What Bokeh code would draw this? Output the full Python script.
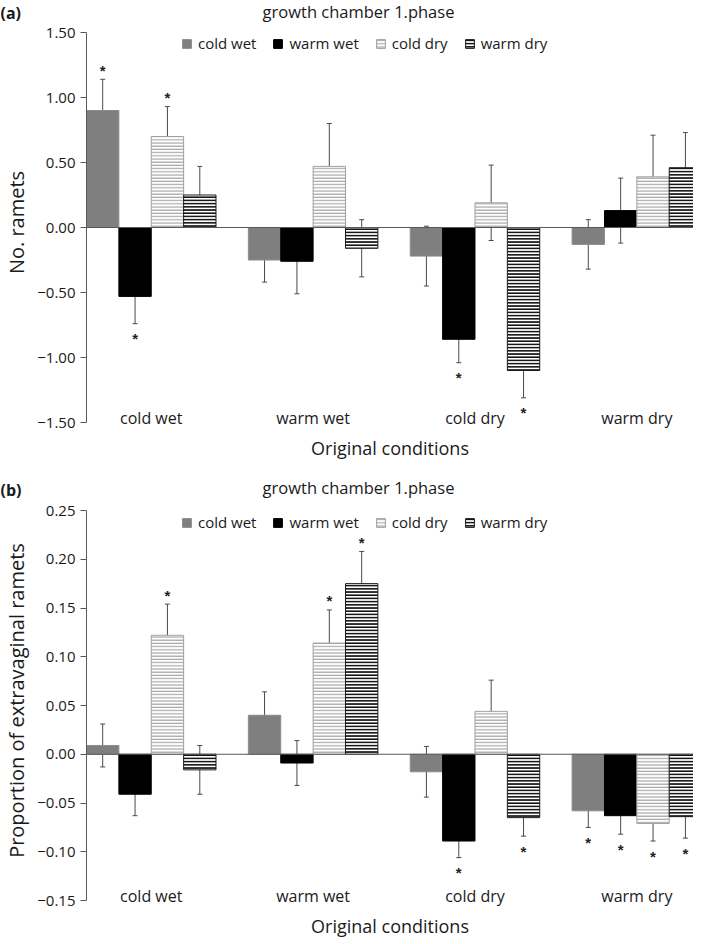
from bokeh.plotting import figure
from bokeh.models import (ColumnDataSource, Whisker, TeeHead, Span, Legend, LegendItem,
                          Label, FixedTicker, Range1d)
from bokeh.layouts import column
from bokeh.embed import file_html
from bokeh.resources import INLINE

# ---------------- data ----------------
conditions = ["cold wet", "warm wet", "cold dry", "warm dry"]   # original conditions (x groups)
treatments = ["cold wet", "warm wet", "cold dry", "warm dry"]   # growth chamber 1.phase (series)
chart_title = "growth chamber 1.phase"
x_title = "Original conditions"

# panel (a): No. ramets  (one list per series, values per original condition)
a_cold_wet = [0.90, -0.25, -0.22, -0.13]
a_warm_wet = [-0.53, -0.26, -0.86, 0.13]
a_cold_dry = [0.70, 0.47, 0.19, 0.39]
a_warm_dry = [0.25, -0.16, -1.10, 0.46]
a_err_cold_wet = [0.24, 0.17, 0.23, 0.19]
a_err_warm_wet = [0.21, 0.25, 0.18, 0.25]
a_err_cold_dry = [0.23, 0.33, 0.29, 0.32]
a_err_warm_dry = [0.22, 0.22, 0.21, 0.27]
a_sig_cold_wet = [1, 0, 0, 0]
a_sig_warm_wet = [1, 0, 1, 0]
a_sig_cold_dry = [1, 0, 0, 0]
a_sig_warm_dry = [0, 0, 1, 0]
a_ticks = [-1.5, -1.0, -0.5, 0.0, 0.5, 1.0, 1.5]
a_tick_labels = ["\u22121.50", "\u22121.00", "\u22120.50", "0.00", "0.50", "1.00", "1.50"]

# panel (b): Proportion of extravaginal ramets
b_cold_wet = [0.009, 0.040, -0.018, -0.058]
b_warm_wet = [-0.041, -0.009, -0.089, -0.063]
b_cold_dry = [0.122, 0.114, 0.044, -0.071]
b_warm_dry = [-0.016, 0.175, -0.065, -0.064]
b_err_cold_wet = [0.022, 0.024, 0.026, 0.017]
b_err_warm_wet = [0.022, 0.023, 0.017, 0.019]
b_err_cold_dry = [0.032, 0.034, 0.032, 0.018]
b_err_warm_dry = [0.025, 0.033, 0.019, 0.022]
b_sig_cold_wet = [0, 0, 0, 1]
b_sig_warm_wet = [0, 0, 1, 1]
b_sig_cold_dry = [1, 1, 0, 1]
b_sig_warm_dry = [0, 1, 1, 1]
b_ticks = [-0.15, -0.10, -0.05, 0.0, 0.05, 0.10, 0.15, 0.20, 0.25]
b_tick_labels = ["\u22120.15", "\u22120.10", "\u22120.05", "0.00", "0.05", "0.10", "0.15", "0.20", "0.25"]

FONT = "Open Sans"
TXT = "#1a1a1a"
AXIS_GREY = "#595959"
ERR_GREY = "#4a4a4a"
W = 693

styles = [
    dict(fill_color="#7f7f7f", line_color="#8c8c8c"),
    dict(fill_color="#000000", line_color="#000000"),
    dict(fill_color="#ffffff", line_color="#a0a0a0", hatch_pattern="horizontal_line",
         hatch_color="#a6a6a6", hatch_scale=3.2, hatch_weight=1.2),
    dict(fill_color="#ffffff", line_color="#1a1a1a", hatch_pattern="horizontal_line",
         hatch_color="#111111", hatch_scale=3.2, hatch_weight=1.9),
]
offsets = [-0.3, -0.1, 0.1, 0.3]
BAR_W = 0.2
TICK_SPAN = 390      # px between lowest and highest y tick


def header(tag, height, title_cy, tag_cy):
    """Strip above a panel holding the panel tag and the chart title."""
    h = figure(width=W, height=height, output_backend="svg", toolbar_location=None,
               x_axis_type=None, y_axis_type=None, min_border=0, frame_align=False,
               x_range=Range1d(0, 1), y_range=Range1d(0, 1))
    h.min_border_left = 0
    h.min_border_right = 0
    h.min_border_top = 0
    h.min_border_bottom = 0
    h.outline_line_color = None
    h.xgrid.visible = False
    h.ygrid.visible = False
    h.add_layout(Label(x=358, y=height - title_cy, x_units="screen", y_units="screen",
                       text=chart_title, text_align="center", text_baseline="middle",
                       text_font=FONT, text_font_size="16.5px", text_color=TXT))
    h.add_layout(Label(x=0, y=height - tag_cy, x_units="screen", y_units="screen",
                       text=tag, text_align="left", text_baseline="middle",
                       text_font=FONT, text_font_size="16px", text_font_style="bold",
                       text_color=TXT))
    return h


def make_panel(ylabel, series, errs, sigs, ticks, tick_labels, height, top_px, bottom_px, legend_cy):
    ymin, ymax = ticks[0], ticks[-1]
    y_end = ymax + (ymax - ymin) * top_px / TICK_SPAN     # room above the top tick
    frame_h = top_px + TICK_SPAN
    p = figure(width=W, height=height, output_backend="svg", toolbar_location=None,
               x_range=Range1d(-0.4, 3.35), y_range=Range1d(ymin, y_end),
               min_border_left=80, min_border_right=0, min_border_top=0,
               min_border_bottom=bottom_px)
    p.outline_line_color = None
    p.xgrid.visible = False
    p.ygrid.visible = False

    items = []
    for k, (vals, err, sig) in enumerate(zip(series, errs, sigs)):
        xs = [g + offsets[k] for g in range(len(conditions))]
        upper = [v + e for v, e in zip(vals, err)]
        lower = [v - e for v, e in zip(vals, err)]
        src = ColumnDataSource(dict(x=xs, top=vals, upper=upper, lower=lower))
        r = p.vbar(x="x", top="top", bottom=0, width=BAR_W, source=src, line_width=1, **styles[k])
        items.append(LegendItem(label=treatments[k], renderers=[r]))
        p.add_layout(Whisker(base="x", upper="upper", lower="lower", source=src,
                             line_color=ERR_GREY, line_width=1,
                             upper_head=TeeHead(size=5, line_color=ERR_GREY, line_width=1),
                             lower_head=TeeHead(size=5, line_color=ERR_GREY, line_width=1)))
        pos_x = [x for x, v, s in zip(xs, vals, sig) if s and v >= 0]
        pos_y = [u for u, v, s in zip(upper, vals, sig) if s and v >= 0]
        neg_x = [x for x, v, s in zip(xs, vals, sig) if s and v < 0]
        neg_y = [l for l, v, s in zip(lower, vals, sig) if s and v < 0]
        if pos_x:
            p.text(x=pos_x, y=pos_y, text=["*"] * len(pos_x), text_align="center",
                   text_baseline="middle", y_offset=-9, text_font_size="15px",
                   text_font_style="bold", text_color="#222222")
        if neg_x:
            p.text(x=neg_x, y=neg_y, text=["*"] * len(neg_x), text_align="center",
                   text_baseline="middle", y_offset=15, text_font_size="15px",
                   text_font_style="bold", text_color="#222222")

    p.add_layout(Span(location=0, dimension="width", line_color=AXIS_GREY, line_width=1.2))

    leg_h = 20
    legend = Legend(items=items, orientation="horizontal",
                    location=(95, frame_h - legend_cy - leg_h / 2),
                    glyph_width=11, glyph_height=11, label_height=leg_h, label_standoff=6,
                    spacing=16, padding=0, margin=0, border_line_color=None,
                    background_fill_alpha=0, label_text_font=FONT,
                    label_text_font_size="15px", label_text_color=TXT)
    p.add_layout(legend)

    ya = p.yaxis[0]
    ya.bounds = (ymin, ymax)
    ya.ticker = FixedTicker(ticks=ticks)
    ya.major_label_overrides = dict(zip(ticks, tick_labels))
    ya.axis_label = ylabel
    ya.axis_label_text_font = FONT
    ya.axis_label_text_font_size = "20px"
    ya.axis_label_text_font_style = "normal"
    ya.axis_label_text_color = TXT
    ya.axis_label_standoff = 4
    ya.major_label_text_font = FONT
    ya.major_label_text_font_size = "15px"
    ya.major_label_text_color = TXT
    ya.major_label_standoff = 5
    ya.axis_line_color = AXIS_GREY
    ya.major_tick_line_color = AXIS_GREY
    ya.major_tick_out = 6
    ya.major_tick_in = 0
    ya.minor_tick_line_color = None

    xa = p.xaxis[0]
    xa.ticker = FixedTicker(ticks=list(range(len(conditions))))
    xa.major_label_overrides = {i: c for i, c in enumerate(conditions)}
    xa.major_label_text_font = FONT
    xa.major_label_text_font_size = "16px"
    xa.major_label_text_color = TXT
    xa.major_label_standoff = -16
    xa.major_tick_out = 0
    xa.major_tick_in = 0
    xa.axis_line_color = None
    xa.major_tick_line_color = None
    xa.minor_tick_line_color = None
    xa.axis_label = x_title
    xa.axis_label_text_font = FONT
    xa.axis_label_text_font_size = "18px"
    xa.axis_label_text_font_style = "normal"
    xa.axis_label_text_color = TXT
    xa.axis_label_standoff = 4
    return p


ha = header("(a)", 22, 11, 12)
pa = make_panel("No. ramets",
                [a_cold_wet, a_warm_wet, a_cold_dry, a_warm_dry],
                [a_err_cold_wet, a_err_warm_wet, a_err_cold_dry, a_err_warm_dry],
                [a_sig_cold_wet, a_sig_warm_wet, a_sig_cold_dry, a_sig_warm_dry],
                a_ticks, a_tick_labels, 450, 10, 50, 21)
hb = header("(b)", 28, 15, 17)
pb = make_panel("Proportion of extravaginal ramets",
                [b_cold_wet, b_warm_wet, b_cold_dry, b_warm_dry],
                [b_err_cold_wet, b_err_warm_wet, b_err_cold_dry, b_err_warm_dry],
                [b_sig_cold_wet, b_sig_warm_wet, b_sig_cold_dry, b_sig_warm_dry],
                b_ticks, b_tick_labels, 440, 10, 40, 22)

layout = column(ha, pa, hb, pb, spacing=0)
open("out.html", "w").write(file_html(layout, INLINE))
